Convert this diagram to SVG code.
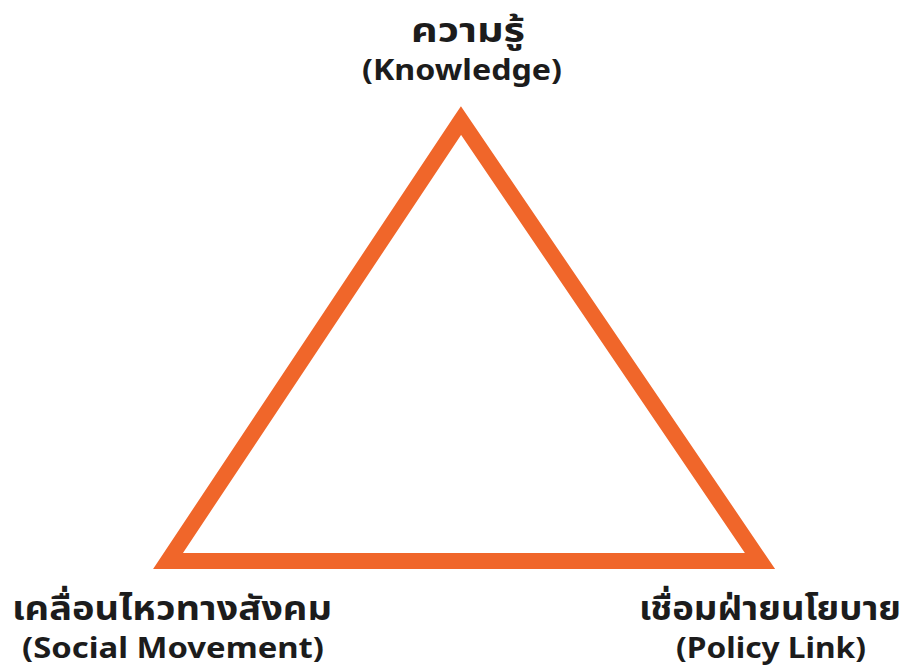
<svg xmlns="http://www.w3.org/2000/svg" width="908" height="668" viewBox="0 0 908 668">
<style>
.t{font-family:"Noto Sans Thai","Noto Sans","Liberation Sans",sans-serif;font-weight:bold;fill:#1c1c1c;text-anchor:middle}
.th{font-size:33px}
.en{font-size:29px;font-family:"Noto Sans","Liberation Sans",sans-serif}
</style>
<rect width="908" height="668" fill="#ffffff"/>
<g id="connectors">
<polygon points="461,120.5 168,561 760,561" fill="none" stroke="#F0662A" stroke-width="16" stroke-linejoin="miter" stroke-miterlimit="10"/>
</g>
<g id="knowledge">
<text class="t th" x="468" y="42" textLength="114" lengthAdjust="spacingAndGlyphs">ความรู้</text>
<text class="t en" x="462" y="80" textLength="200" lengthAdjust="spacingAndGlyphs">(Knowledge)</text>
</g>
<g id="social">
<text class="t th" x="172" y="620" textLength="320" lengthAdjust="spacingAndGlyphs">เคลื่อนไหวทางสังคม</text>
<text class="t en" x="173" y="658" textLength="302" lengthAdjust="spacingAndGlyphs">(Social Movement)</text>
</g>
<g id="policy">
<text class="t th" x="770" y="620" textLength="262" lengthAdjust="spacingAndGlyphs">เชื่อมฝ่ายนโยบาย</text>
<text class="t en" x="771" y="658" textLength="190" lengthAdjust="spacingAndGlyphs">(Policy Link)</text>
</g>
</svg>
